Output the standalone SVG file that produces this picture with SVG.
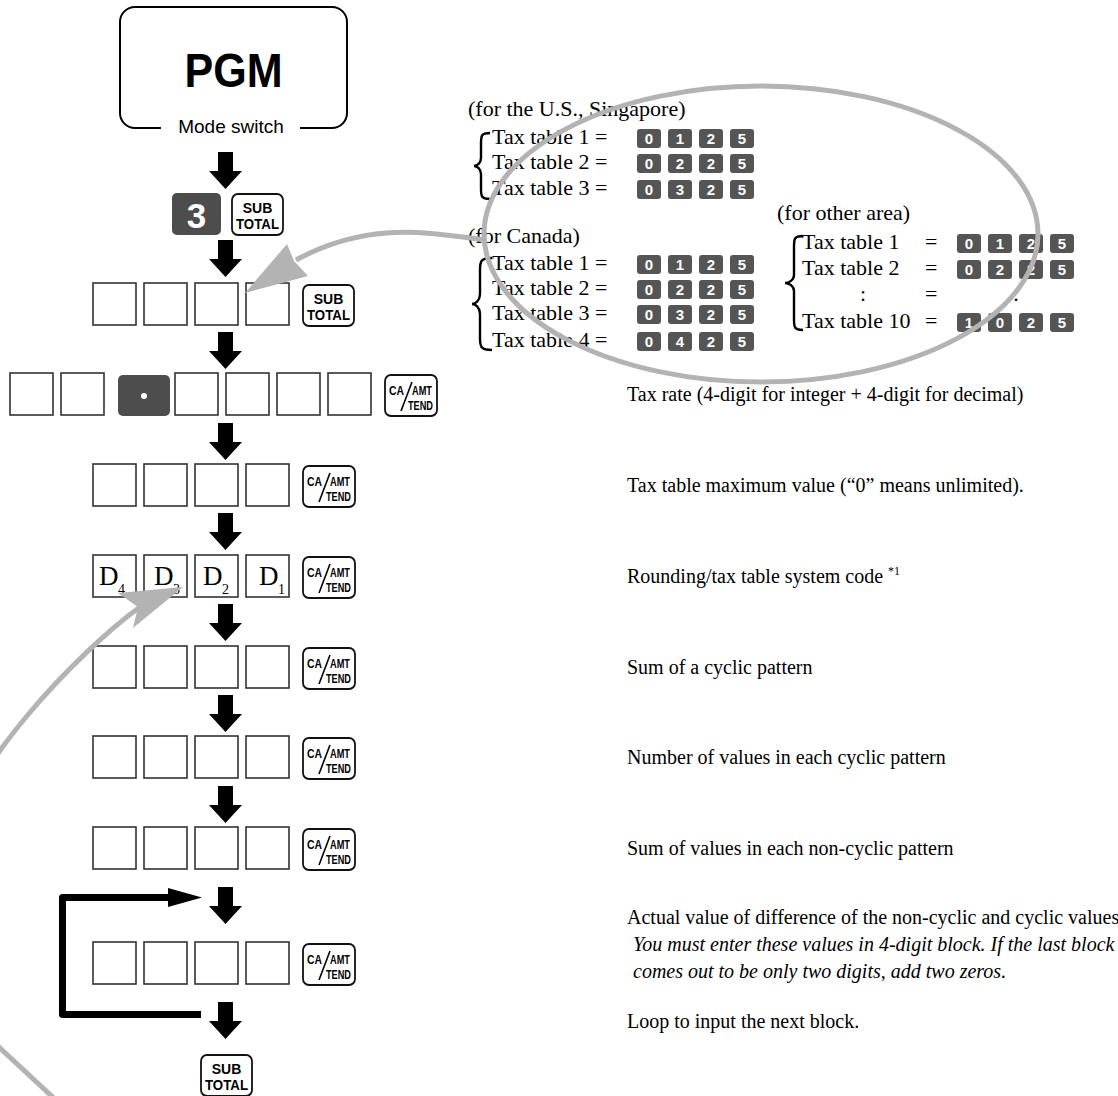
<svg xmlns="http://www.w3.org/2000/svg" width="1118" height="1096" viewBox="0 0 1118 1096">
<style>
.bx{fill:#fff;stroke:#333;stroke-width:1.6}
.ky{fill:#fff;stroke:#111;stroke-width:1.8}
.dk{fill:#4d4d4d}
.gr{fill:none;stroke:#b3b3b3;stroke-width:5}
.grf{fill:#b3b3b3}
.s{font-family:"Liberation Serif","Times New Roman",serif;font-size:20px;fill:#000}
.tt{font-family:"Liberation Serif","Times New Roman",serif;font-size:22px;fill:#000}
.i{font-style:italic}
.h{font-family:"Liberation Sans",Arial,Helvetica,sans-serif}
.kb{font-family:"Liberation Sans",Arial,sans-serif;font-weight:bold;font-size:14px;text-anchor:middle}
.kc{font-family:"Liberation Sans Narrow","Liberation Sans",Arial,sans-serif;font-weight:bold;font-size:13px}
.tk{fill:#555}
.td{font-family:"Liberation Sans",Arial,sans-serif;font-weight:bold;font-size:15px;fill:#fff;text-anchor:middle}
.br{fill:none;stroke:#000;stroke-width:2.4}
.dd{font-family:"Liberation Serif","Times New Roman",serif;font-size:27px}
.ds{font-family:"Liberation Serif","Times New Roman",serif;font-size:14px}
</style>
<defs>
<path id="dn" d="M-7.5,0H7.5V19H16.5L0,37L-16.5,19H-7.5Z" fill="#000"/>
<rect id="b" width="43" height="42" class="bx"/>
<g id="ca">
<rect width="52" height="41" rx="6" class="ky"/>
<text class="kc" x="4" y="20" textLength="15" lengthAdjust="spacingAndGlyphs">CA</text>
<line x1="27" y1="7" x2="16" y2="36" stroke="#000" stroke-width="1.6"/>
<text class="kc" x="27" y="20" textLength="20" lengthAdjust="spacingAndGlyphs">AMT</text>
<text class="kc" x="23" y="35" textLength="25" lengthAdjust="spacingAndGlyphs">TEND</text>
</g>
<g id="st">
<rect width="51" height="41" rx="6" class="ky"/>
<text class="kb" x="25.5" y="19">SUB</text>
<text class="kb" x="25.5" y="35" textLength="43" lengthAdjust="spacingAndGlyphs">TOTAL</text>
</g>
<rect id="tk" width="24" height="19" rx="3" class="tk"/>
</defs>

<g id="pgm">
<path d="M161,128H135A15,15 0 0 1 120,113V22A15,15 0 0 1 135,7H332A15,15 0 0 1 347,22V113A15,15 0 0 1 332,128H300" fill="none" stroke="#000" stroke-width="2"/>
<text x="233.5" y="87" class="h" font-weight="bold" font-size="48" text-anchor="middle" textLength="98" lengthAdjust="spacingAndGlyphs">PGM</text>
<text x="231" y="133" class="h" font-size="19" text-anchor="middle">Mode switch</text>
</g>

<g id="key-3-subtotal">
<rect x="172" y="193" width="49" height="42" rx="5" class="dk"/>
<text x="196.5" y="228" class="h" font-weight="bold" font-size="35" fill="#fff" text-anchor="middle">3</text>
<use href="#st" x="232" y="194"/>
</g>

<g id="row-tax-table-no">
<use href="#b" x="93" y="283"/><use href="#b" x="144" y="283"/><use href="#b" x="195" y="283"/><use href="#b" x="246" y="283"/>
<use href="#st" x="303" y="285"/>
</g>

<g id="row-tax-rate">
<use href="#b" x="10" y="373"/><use href="#b" x="61" y="373"/>
<rect x="118" y="375" width="52" height="41" rx="5" class="dk"/>
<circle cx="144" cy="396" r="3" fill="#fff"/>
<use href="#b" x="175" y="373"/><use href="#b" x="226" y="373"/><use href="#b" x="277" y="373"/><use href="#b" x="328" y="373"/>
<use href="#ca" x="385" y="375"/>
</g>

<g id="row-max-value">
<use href="#b" x="93" y="464"/><use href="#b" x="144" y="464"/><use href="#b" x="195" y="464"/><use href="#b" x="246" y="464"/>
<use href="#ca" x="303" y="466"/>
</g>

<g id="row-system-code">
<use href="#b" x="93" y="555"/><use href="#b" x="144" y="555"/><use href="#b" x="195" y="555"/><use href="#b" x="246" y="555"/>
<text class="dd" x="99" y="585">D</text><text class="ds" x="118" y="594">4</text>
<text class="dd" x="154" y="585">D</text><text class="ds" x="173" y="594">3</text>
<text class="dd" x="203" y="585">D</text><text class="ds" x="222" y="594">2</text>
<text class="dd" x="259" y="585">D</text><text class="ds" x="278" y="594">1</text>
<use href="#ca" x="303" y="557"/>
</g>

<g id="row-cyclic-sum">
<use href="#b" x="93" y="646"/><use href="#b" x="144" y="646"/><use href="#b" x="195" y="646"/><use href="#b" x="246" y="646"/>
<use href="#ca" x="303" y="648"/>
</g>

<g id="row-cyclic-count">
<use href="#b" x="93" y="736"/><use href="#b" x="144" y="736"/><use href="#b" x="195" y="736"/><use href="#b" x="246" y="736"/>
<use href="#ca" x="303" y="738"/>
</g>

<g id="row-noncyclic-sum">
<use href="#b" x="93" y="827"/><use href="#b" x="144" y="827"/><use href="#b" x="195" y="827"/><use href="#b" x="246" y="827"/>
<use href="#ca" x="303" y="829"/>
</g>

<g id="row-difference">
<use href="#b" x="93" y="942"/><use href="#b" x="144" y="942"/><use href="#b" x="195" y="942"/><use href="#b" x="246" y="942"/>
<use href="#ca" x="303" y="944"/>
</g>

<g id="final-subtotal">
<use href="#st" x="201" y="1055"/>
</g>

<g id="descriptions">
<text class="s" x="627" y="401">Tax rate (4-digit for integer + 4-digit for decimal)</text>
<text class="s" x="627" y="492">Tax table maximum value (“0” means unlimited).</text>
<text class="s" x="627" y="583">Rounding/tax table system code <tspan font-size="12" dy="-8">*1</tspan></text>
<text class="s" x="627" y="674">Sum of a cyclic pattern</text>
<text class="s" x="627" y="764">Number of values in each cyclic pattern</text>
<text class="s" x="627" y="855">Sum of values in each non-cyclic pattern</text>
<text class="s" x="627" y="924">Actual value of difference of the non-cyclic and cyclic values</text>
<text class="s i" x="633" y="951">You must enter these values in 4-digit block. If the last block</text>
<text class="s i" x="633" y="978">comes out to be only two digits, add two zeros.</text>
<text class="s" x="627" y="1028">Loop to input the next block.</text>
</g>

<g id="tax-tables">
<text class="tt" x="468" y="116">(for the U.S., Singapore)</text>
<path class="br" d="M490,133C481,133 481,136 481,144L481,158C481,163 477,166 474,166C477,166 481,169 481,174L481,188C481,196 481,199 490,199"/>
<text class="tt" x="492" y="144">Tax table 1 =</text>
<text class="tt" x="492" y="169">Tax table 2 =</text>
<text class="tt" x="492" y="195">Tax table 3 =</text>
<use href="#tk" x="637" y="129"/><use href="#tk" x="668" y="129"/><use href="#tk" x="699" y="129"/><use href="#tk" x="730" y="129"/>
<text class="td" x="649" y="144">0</text><text class="td" x="680" y="144">1</text><text class="td" x="711" y="144">2</text><text class="td" x="742" y="144">5</text>
<use href="#tk" x="637" y="154"/><use href="#tk" x="668" y="154"/><use href="#tk" x="699" y="154"/><use href="#tk" x="730" y="154"/>
<text class="td" x="649" y="169">0</text><text class="td" x="680" y="169">2</text><text class="td" x="711" y="169">2</text><text class="td" x="742" y="169">5</text>
<use href="#tk" x="637" y="180"/><use href="#tk" x="668" y="180"/><use href="#tk" x="699" y="180"/><use href="#tk" x="730" y="180"/>
<text class="td" x="649" y="195">0</text><text class="td" x="680" y="195">3</text><text class="td" x="711" y="195">2</text><text class="td" x="742" y="195">5</text>

<text class="tt" x="468" y="243">(for Canada)</text>
<path class="br" d="M492,258C481,258 480,261 480,270L480,294C480,300 476,304 472,304C476,304 480,308 480,314L480,338C480,347 481,350 492,350"/>
<text class="tt" x="492" y="270">Tax table 1 =</text>
<text class="tt" x="492" y="295">Tax table 2 =</text>
<text class="tt" x="492" y="320">Tax table 3 =</text>
<text class="tt" x="492" y="347">Tax table 4 =</text>
<use href="#tk" x="637" y="255"/><use href="#tk" x="668" y="255"/><use href="#tk" x="699" y="255"/><use href="#tk" x="730" y="255"/>
<text class="td" x="649" y="270">0</text><text class="td" x="680" y="270">1</text><text class="td" x="711" y="270">2</text><text class="td" x="742" y="270">5</text>
<use href="#tk" x="637" y="280"/><use href="#tk" x="668" y="280"/><use href="#tk" x="699" y="280"/><use href="#tk" x="730" y="280"/>
<text class="td" x="649" y="295">0</text><text class="td" x="680" y="295">2</text><text class="td" x="711" y="295">2</text><text class="td" x="742" y="295">5</text>
<use href="#tk" x="637" y="305"/><use href="#tk" x="668" y="305"/><use href="#tk" x="699" y="305"/><use href="#tk" x="730" y="305"/>
<text class="td" x="649" y="320">0</text><text class="td" x="680" y="320">3</text><text class="td" x="711" y="320">2</text><text class="td" x="742" y="320">5</text>
<use href="#tk" x="637" y="332"/><use href="#tk" x="668" y="332"/><use href="#tk" x="699" y="332"/><use href="#tk" x="730" y="332"/>
<text class="td" x="649" y="347">0</text><text class="td" x="680" y="347">4</text><text class="td" x="711" y="347">2</text><text class="td" x="742" y="347">5</text>

<text class="tt" x="777" y="220">(for other area)</text>
<path class="br" d="M803,236C794,236 794,239 794,247L794,275C794,280 789,283 785,283C789,283 794,286 794,291L794,319C794,327 794,330 803,330"/>
<text class="tt" x="802" y="249">Tax table 1</text>
<text class="tt" x="802" y="275">Tax table 2</text>
<text class="tt" x="860" y="301">:</text>
<text class="tt" x="802" y="328">Tax table 10</text>
<text class="tt" x="925" y="249">=</text>
<text class="tt" x="925" y="275">=</text>
<text class="tt" x="925" y="301">=</text>
<text class="tt" x="925" y="328">=</text>
<text class="tt" x="1013" y="301">:</text>
<use href="#tk" x="957" y="234"/><use href="#tk" x="988" y="234"/><use href="#tk" x="1019" y="234"/><use href="#tk" x="1050" y="234"/>
<text class="td" x="969" y="249">0</text><text class="td" x="1000" y="249">1</text><text class="td" x="1031" y="249">2</text><text class="td" x="1062" y="249">5</text>
<use href="#tk" x="957" y="260"/><use href="#tk" x="988" y="260"/><use href="#tk" x="1019" y="260"/><use href="#tk" x="1050" y="260"/>
<text class="td" x="969" y="275">0</text><text class="td" x="1000" y="275">2</text><text class="td" x="1031" y="275">2</text><text class="td" x="1062" y="275">5</text>
<use href="#tk" x="957" y="313"/><use href="#tk" x="988" y="313"/><use href="#tk" x="1019" y="313"/><use href="#tk" x="1050" y="313"/>
<text class="td" x="969" y="328">1</text><text class="td" x="1000" y="328">0</text><text class="td" x="1031" y="328">2</text><text class="td" x="1062" y="328">5</text>
<ellipse cx="761" cy="234" rx="277" ry="148" class="gr"/>
</g>

<g id="connectors">
<use href="#dn" x="225.5" y="152"/>
<use href="#dn" x="225.5" y="240"/>
<use href="#dn" x="225.5" y="332"/>
<use href="#dn" x="225.5" y="423"/>
<use href="#dn" x="225.5" y="513"/>
<use href="#dn" x="225.5" y="604"/>
<use href="#dn" x="225.5" y="695"/>
<use href="#dn" x="225.5" y="786"/>
<use href="#dn" x="225.5" y="887"/>
<use href="#dn" x="225.5" y="1002"/>
<path d="M170,897.5H62.5V1014.5H201" fill="none" stroke="#000" stroke-width="7" stroke-linejoin="round"/>
<polygon points="168,888 202,897.5 168,907" fill="#000"/>
<path class="gr" d="M486,240C430,233 370,220 296,260"/>
<polygon class="grf" points="245,293 287,244 294,261 308,276"/>
<path class="gr" d="M58,1102L0,1048C-20,1030 -40,960 -40,840C-40,775 80,650 140,607"/>
<polygon class="grf" points="183,587 118,593 138,607 133,628"/>
</g>
</svg>
